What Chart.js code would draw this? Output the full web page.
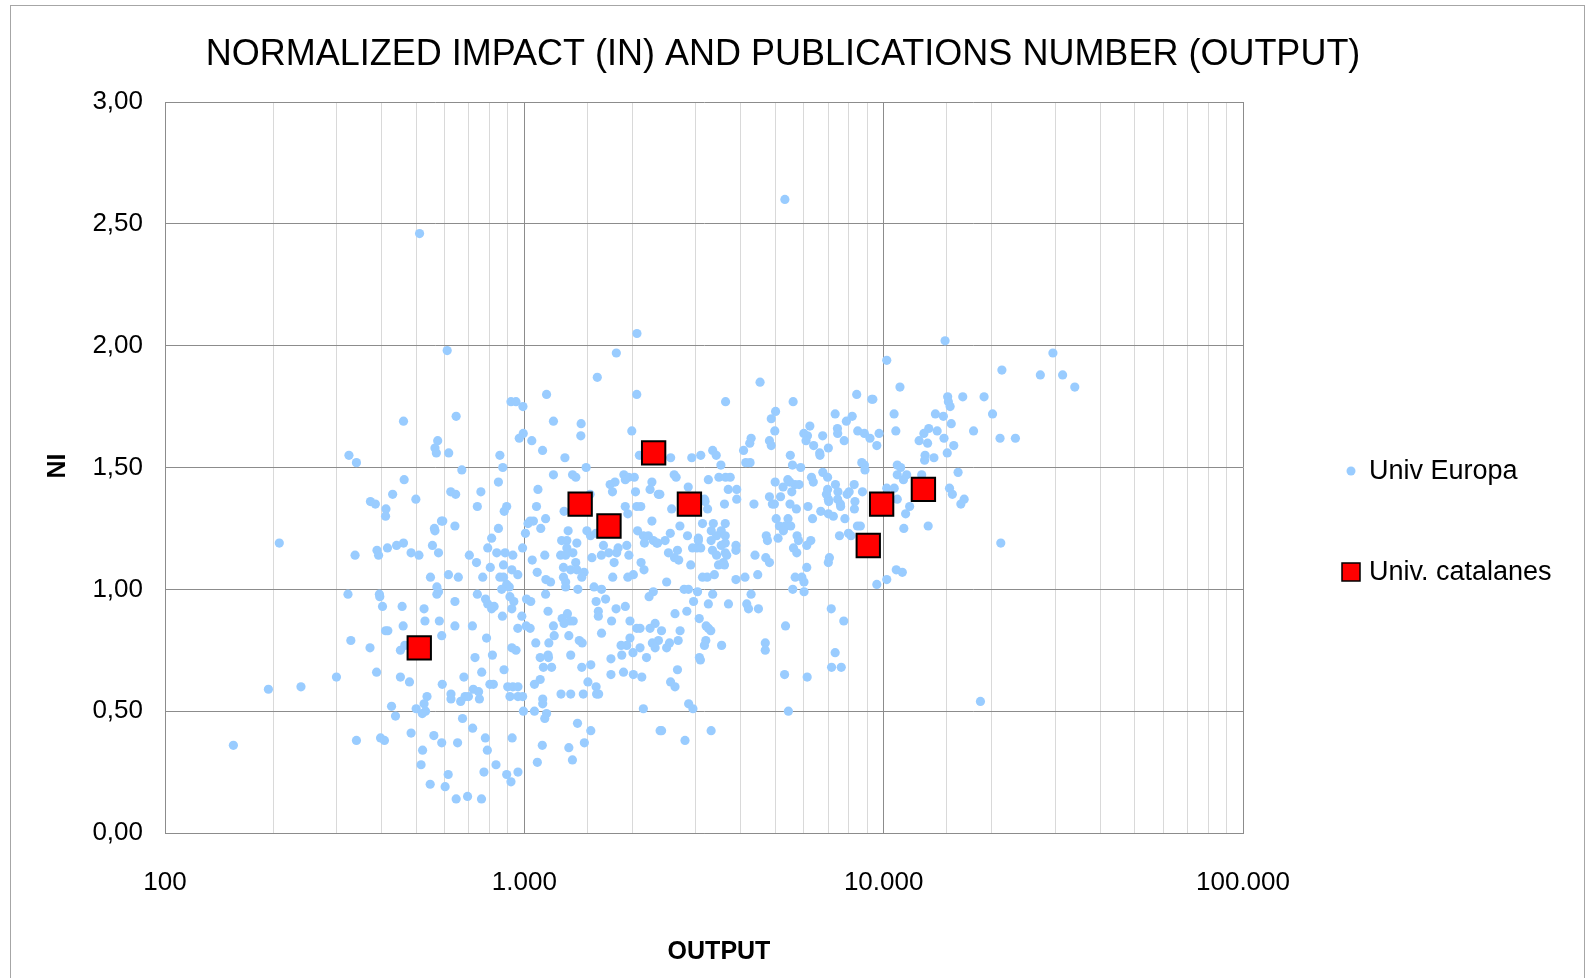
<!DOCTYPE html>
<html>
<head>
<meta charset="utf-8">
<script src="https://cdn.jsdelivr.net/npm/chart.js@4"></script>
<style>
html,body{margin:0;padding:0;background:#fff;}
canvas{display:block;}
</style>
</head>
<body>
<canvas id="c" width="1596" height="978"></canvas>
<script>
// ---- DATA ----
const titleText = "NORMALIZED IMPACT (IN) AND PUBLICATIONS NUMBER (OUTPUT)";
const xAxisTitle = "OUTPUT";
const yAxisTitle = "NI";
const seriesNames = ["Univ Europa", "Univ. catalanes"];
const xTickValues = [100, 1000, 10000, 100000];
const yTickValues = [0, 0.5, 1, 1.5, 2, 2.5, 3];

// Univ. catalanes: [output, NI]
const catalanesPoints = [[510,0.76],[1430,1.35],[1720,1.26],[2290,1.56],[2880,1.35],[9060,1.18],[9870,1.35],[12900,1.41]];

// Univ Europa: [output, NI]
const europaHigh = [
[511,2.46],[5310,2.60],[2058,2.05],[14820,2.02],[610,1.98],[1803,1.97],[29580,1.97],[10200,1.94],[21330,1.90],
[27290,1.88],[31480,1.88],[1596,1.87],[4529,1.85],[34030,1.83],[11100,1.83],[1153,1.80],[2055,1.80],[8414,1.80],
[918,1.77],[948,1.77],[3631,1.77],[5598,1.77],[9270,1.78],[9330,1.78],[991,1.75],[15070,1.79],[15140,1.77],[15310,1.75],
[16600,1.79],[19030,1.79],[5003,1.73],[7328,1.72],[10690,1.72],[20090,1.72],[13930,1.72],[14660,1.71],[646,1.71],
[8174,1.71],[461,1.69],[1205,1.69],[4866,1.70],[7874,1.69],[1439,1.68],[15420,1.68],[6232,1.67],[7436,1.66],[13350,1.66],
[1991,1.65],[4978,1.65],[8469,1.65],[10810,1.65],[17790,1.65],[14090,1.65],[1436,1.63],[993,1.64],[7447,1.64],[8839,1.64],
[5995,1.64],[12940,1.64],[9710,1.64],[6137,1.63],[6764,1.63],[968,1.62],[9160,1.62],[4277,1.62],[14720,1.62],[21080,1.62],
[23260,1.62],[574,1.61],[1049,1.61],[6081,1.61],[7766,1.61],[4810,1.61],[12550,1.61],[4240,1.60],[13250,1.60],[564,1.58],
[4866,1.59],[6385,1.59],[15670,1.59],[9570,1.59],[7015,1.58],[1124,1.57],[4075,1.57],[3343,1.57],[569,1.56],[616,1.56],
[6637,1.56],[15030,1.56],[325,1.55],[855,1.55],[2090,1.55],[6650,1.55],[3420,1.55],[3097,1.55],[5498,1.55],[13040,1.55],
[1297,1.54],[2924,1.54],[2554,1.54],[13800,1.54],[13000,1.53],[341,1.52],[4133,1.52],[4248,1.52],[8692,1.52],[3524,1.51],
[5574,1.51],[8839,1.51],[10910,1.51],[871,1.50],[1486,1.50],[5875,1.50],[11150,1.50],[670,1.49],[8870,1.49],[6771,1.48],
[16110,1.48]
];
const europaMid = [
[463,1.45],[1205,1.47],[1362,1.47],[1391,1.46],[1892,1.47],[1950,1.46],[2023,1.46],[2612,1.47],[2645,1.46],[3479,1.46],
[3631,1.46],[3741,1.46],[6297,1.46],[6982,1.46],[10910,1.47],[11590,1.47],[12760,1.47],[847,1.44],[1788,1.44],[1910,1.45],
[2265,1.44],[3252,1.45],[4989,1.44],[5410,1.45],[5480,1.44],[6370,1.44],[11350,1.45],[1733,1.43],[5665,1.43],[5815,1.43],
[7342,1.43],[8280,1.43],[5250,1.42],[2858,1.42],[1091,1.41],[2238,1.41],[3694,1.41],[3900,1.41],[6982,1.41],[10200,1.415],
[10700,1.415],[15250,1.415],[624,1.40],[757,1.40],[1759,1.40],[2039,1.40],[5550,1.40],[7460,1.40],[8017,1.40],[8729,1.40],
[430,1.39],[644,1.39],[2360,1.39],[1524,1.39],[2383,1.39],[6930,1.39],[7913,1.39],[15530,1.39],[499,1.37],[373,1.36],
[4810,1.38],[5164,1.38],[3171,1.37],[3900,1.37],[7015,1.37],[7447,1.37],[16750,1.37],[10910,1.37],[385,1.35],[3606,1.35],
[3184,1.36],[4355,1.35],[4900,1.35],[4965,1.35],[5487,1.35],[7031,1.36],[7576,1.35],[8318,1.36],[16400,1.35],[740,1.34],
[893,1.34],[1081,1.34],[1909,1.34],[2109,1.34],[2055,1.34],[6156,1.34],[7590,1.34],[11810,1.34],[412,1.33],[3236,1.33],
[2570,1.33],[5717,1.33],[8290,1.33],[879,1.32],[1290,1.32],[6683,1.32],[1941,1.31],[7015,1.31],[11510,1.31],[411,1.30],
[7244,1.30],[1146,1.29],[7800,1.29],[6339,1.29],[5022,1.29],[5418,1.29],[588,1.28],[1038,1.28],[1060,1.28],[593,1.28],
[2265,1.28],[1024,1.27],[3132,1.27],[3357,1.27],[3624,1.27],[641,1.26],[8453,1.26],[8612,1.26],[5127,1.26],[5318,1.26],
[5512,1.26],[2710,1.26],[13300,1.26],[562,1.25],[1111,1.25],[847,1.25],[11380,1.25],[564,1.24],[1324,1.24],[1493,1.24],
[2066,1.24],[5260,1.24],[3313,1.24],[3531,1.24],[1007,1.23],[1584,1.23],[7980,1.23],[2548,1.23],[1528,1.22],[2144,1.22],
[2213,1.22],[8110,1.22],[7534,1.22],[4713,1.22],[5741,1.22],[3428,1.22],[3624,1.22],[2845,1.22],[811,1.21],[5083,1.21],
[3050,1.21],[1270,1.20],[1313,1.20],[2285,1.20],[4748,1.20],[5794,1.20],[6269,1.20],[3310,1.20],[3050,1.20],[2465,1.20],
[208,1.19],[461,1.19],[1400,1.19],[2159,1.19],[2335,1.19],[3624,1.19],[2350,1.19],[21180,1.19],[441,1.18],[555,1.18],
[1660,1.18],[1928,1.18],[6109,1.18],[3531,1.18],[3880,1.18],[416,1.17],[791,1.17],[989,1.17],[1313,1.17],[1824,1.17],
[5610,1.17],[2938,1.17],[3020,1.17],[3097,1.17],[389,1.16],[3338,1.16],[3880,1.16],[2668,1.16],[484,1.15],[577,1.15],
[838,1.15],[884,1.15],[1365,1.15],[1718,1.15],[1807,1.15],[5730,1.15],[3624,1.15],[2518,1.15],[338,1.14],[393,1.14],
[509,1.14],[929,1.14],[703,1.14],[1140,1.14],[1262,1.14],[1303,1.14],[1638,1.14],[1954,1.14],[4385,1.14],[3428,1.14],
[3658,1.14],[1542,1.13],[4698,1.13],[2618,1.13],[7063,1.13],[1052,1.12],[2689,1.12],[736,1.11],[1390,1.11],[1778,1.11],
[2113,1.11],[4810,1.11],[3581,1.11],[7015,1.11],[875,1.10],[3470,1.10],[3606,1.10],[2904,1.10],[804,1.09],[1285,1.09],
[6109,1.09],[923,1.08],[1346,1.08],[1400,1.08],[2153,1.08],[10840,1.08],[1086,1.07],[1466,1.07],[11270,1.07],[959,1.06],
[2011,1.06],[615,1.06],[3380,1.06],[4462,1.06],[548,1.05],[766,1.05],[855,1.05],[875,1.05],[1285,1.05],[1445,1.05],
[1762,1.05],[1941,1.05],[655,1.05],[3132,1.05],[3228,1.05],[4112,1.05],[5672,1.05],[5919,1.05],[1148,1.04],[3880,1.04],
[10200,1.04],[1183,1.03],[1303,1.03],[2489,1.03],[6002,1.03],[893,1.02],[9570,1.02],[571,1.01],[908,1.01],[1303,1.01],
[1563,1.01],[865,1.00],[1409,1.00],[1640,1.00],[2784,1.00],[2862,1.00],[5585,1.00]
];
const europaLow = [
[577,0.99],[2285,0.99],[3034,0.99],[6005,0.99],[571,0.98],[323,0.98],[395,0.98],[1146,0.98],[740,0.98],[3343,0.98],
[4276,0.98],[396,0.97],[2224,0.97],[912,0.97],[1683,0.96],[1014,0.96],[780,0.96],[1584,0.95],[1042,0.95],[935,0.95],
[641,0.95],[2958,0.95],[403,0.93],[457,0.93],[1910,0.93],[824,0.93],[791,0.94],[3252,0.94],[3699,0.94],[4159,0.94],
[526,0.92],[1800,0.92],[923,0.92],[811,0.92],[4206,0.92],[4482,0.92],[7147,0.92],[1607,0.91],[1164,0.91],[2833,0.91],
[1318,0.90],[2626,0.90],[1607,0.89],[984,0.89],[869,0.89],[1274,0.88],[3067,0.88],[529,0.87],[580,0.87],[1749,0.87],
[1968,0.87],[1340,0.87],[1368,0.87],[7744,0.87],[1290,0.86],[2312,0.86],[460,0.85],[1205,0.85],[1012,0.85],[717,0.85],
[641,0.85],[3206,0.85],[5332,0.85],[2055,0.84],[2099,0.84],[2238,0.84],[959,0.84],[1038,0.84],[3252,0.84],[411,0.83],
[417,0.83],[3303,0.83],[2713,0.83],[2409,0.83],[1640,0.82],[589,0.81],[1211,0.81],[1330,0.81],[1968,0.80],[785,0.80],
[329,0.79],[1422,0.79],[2362,0.79],[2680,0.79],[3199,0.79],[1449,0.78],[1170,0.78],[1076,0.78],[2271,0.78],[2535,0.78],
[4683,0.78],[465,0.77],[1928,0.77],[1859,0.77],[3171,0.77],[3540,0.77],[372,0.76],[2099,0.76],[2312,0.76],[923,0.76],
[2489,0.76],[452,0.75],[948,0.75],[4683,0.75],[2006,0.74],[7328,0.74],[1867,0.73],[1346,0.73],[1164,0.73],[815,0.73],
[2188,0.72],[729,0.72],[3070,0.72],[1107,0.72],[1167,0.72],[1742,0.715],[3090,0.71],[1531,0.69],[1445,0.68],[1130,0.68],
[1191,0.68],[7162,0.68],[7620,0.68],[878,0.67],[2668,0.67],[388,0.66],[761,0.66],[1888,0.66],[1742,0.65],[2011,0.65],
[5300,0.65],[300,0.64],[452,0.64],[679,0.64],[2123,0.64],[6126,0.64],[1107,0.63],[479,0.62],[1503,0.62],[2553,0.62],
[591,0.61],[802,0.61],[820,0.61],[1067,0.61],[239,0.60],[899,0.60],[929,0.60],[960,0.60],[1584,0.60],[2626,0.60],
[194,0.59],[721,0.59],[746,0.58],[625,0.57],[1265,0.57],[1346,0.57],[1459,0.57],[1589,0.57],[1610,0.57],[536,0.56],
[684,0.56],[699,0.56],[912,0.56],[960,0.56],[989,0.56],[625,0.55],[750,0.55],[1125,0.55],[665,0.54],[18590,0.54],
[526,0.53],[1125,0.53],[2866,0.53],[427,0.52],[500,0.51],[2144,0.51],[2946,0.51],[531,0.50],[994,0.50],[1067,0.50],
[5430,0.50],[520,0.49],[1153,0.49],[438,0.48],[1140,0.47],[673,0.47],[1406,0.45],[718,0.43],[484,0.41],[2387,0.42],
[1531,0.42],[2410,0.42],[3310,0.42],[560,0.40],[398,0.39],[925,0.39],[779,0.39],[341,0.38],[408,0.38],[2800,0.38],
[589,0.37],[1469,0.37],[652,0.37],[155,0.36],[1122,0.36],[1330,0.35],[521,0.34],[789,0.34],[1361,0.30],[1087,0.29],
[516,0.28],[834,0.28],[772,0.25],[960,0.25],[614,0.24],[893,0.24],[918,0.21],[547,0.20],[602,0.19],[646,0.14],
[695,0.15],[760,0.14]
];
const europaPoints = europaHigh.concat(europaMid, europaLow);

// ---- STYLE ----
const FONT = "'Liberation Sans', Arial, sans-serif";
const BLUE = '#99ccff';
const RED = '#ff0000';

function isPow10(v){ const l = Math.log10(v); return Math.abs(l - Math.round(l)) < 1e-9; }
function fmtThousands(v){ return String(Math.round(v)).replace(/\B(?=(\d{3})+(?!\d))/g, '.'); }

const decor = {
  id: 'decor',
  beforeDraw(chart){
    const c = chart.ctx;
    c.save();
    c.fillStyle = '#fff';
    c.fillRect(0,0,chart.width,chart.height);
    c.strokeStyle = '#a6a6a6';
    c.lineWidth = 1;
    c.strokeRect(10.5, 5.5, 1574, 990);
    c.restore();
  },
  afterDraw(chart){
    const c = chart.ctx;
    c.save();
    c.fillStyle = '#000';
    c.textBaseline = 'middle';
    // title
    c.font = "36px " + FONT;
    c.textAlign = 'center';
    c.fillText(titleText, 783, 55);
    // x axis title
    c.font = "bold 25px " + FONT;
    c.fillText(xAxisTitle, 719, 952);
    // y axis title
    c.save();
    c.translate(58, 466);
    c.rotate(-Math.PI/2);
    c.fillText(yAxisTitle, 0, 0);
    c.restore();
    // legend
    c.textAlign = 'left';
    c.font = "27px " + FONT;
    c.fillStyle = BLUE;
    c.beginPath(); c.arc(1351, 471, 4.5, 0, Math.PI*2); c.fill();
    c.fillStyle = '#000';
    c.fillText(seriesNames[0], 1369, 472);
    c.fillStyle = RED;
    c.fillRect(1342, 563, 18, 18);
    c.strokeStyle = '#000'; c.lineWidth = 1.5;
    c.strokeRect(1342, 563, 18, 18);
    c.fillStyle = '#000';
    c.fillText(seriesNames[1], 1369, 573);
    c.restore();
  }
};

new Chart(document.getElementById('c'), {
  type: 'scatter',
  data: {
    datasets: [
      {
        label: seriesNames[1],
        data: catalanesPoints.map(p => ({x: p[0], y: p[1]})),
        pointStyle: 'rect',
        pointRadius: 16.5,
        backgroundColor: RED,
        borderColor: '#000',
        borderWidth: 2
      },
      {
        label: seriesNames[0],
        data: europaPoints.map(p => ({x: p[0], y: p[1]})),
        pointStyle: 'circle',
        pointRadius: 4.6,
        backgroundColor: BLUE,
        borderWidth: 0
      }
    ]
  },
  options: {
    responsive: false,
    animation: false,
    events: [],
    layout: { padding: { left: 0, right: 353, top: 102, bottom: 0 } },
    plugins: { legend: { display: false }, title: { display: false }, tooltip: { enabled: false } },
    scales: {
      x: {
        type: 'logarithmic',
        min: xTickValues[0],
        max: xTickValues[xTickValues.length-1],
        afterFit(s){ s.height = 145; },
        grid: {
          drawTicks: false,
          lineWidth: 1,
          color: ctx => (ctx.tick && isPow10(ctx.tick.value)) ? '#8c8c8c' : '#d9d9d9'
        },
        border: { color: '#8c8c8c', width: 1 },
        ticks: {
          autoSkip: false,
          maxRotation: 0,
          padding: 34,
          color: '#000',
          font: { family: FONT, size: 26 },
          callback: (v) => xTickValues.includes(v) ? fmtThousands(v) : ''
        }
      },
      y: {
        min: yTickValues[0],
        max: yTickValues[yTickValues.length-1],
        afterFit(s){ s.width = 165; },
        afterBuildTicks(s){ s.ticks = yTickValues.map(v => ({value: v})); },
        grid: { drawTicks: false, lineWidth: 1, color: '#8c8c8c' },
        border: { color: '#8c8c8c', width: 1 },
        ticks: {
          padding: 22,
          color: '#000',
          font: { family: FONT, size: 26 },
          callback: v => Number(v).toFixed(2).replace('.', ',')
        }
      }
    }
  },
  plugins: [decor]
});
</script>
</body>
</html>
